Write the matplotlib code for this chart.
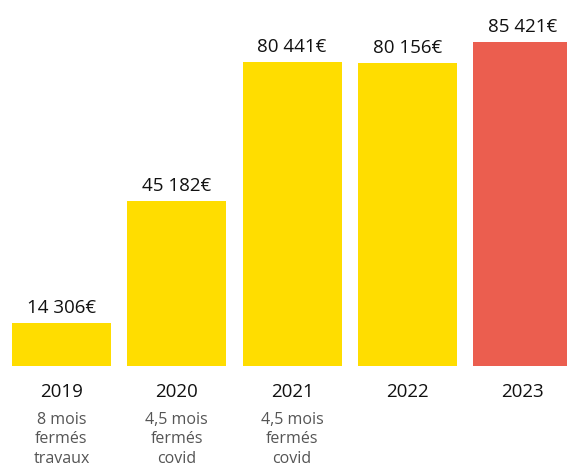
import matplotlib
matplotlib.use("Agg")
import matplotlib.pyplot as plt

years = ["2019", "2020", "2021", "2022", "2023"]
values = [14306, 45182, 80441, 80156, 85421]
value_labels = ["14 306€", "45 182€", "80 441€", "80 156€", "85 421€"]
notes = ["8 mois\nfermés\ntravaux", "4,5 mois\nfermés\ncovid", "4,5 mois\nfermés\ncovid", "", ""]
colors = ["#FFDD00", "#FFDD00", "#FFDD00", "#FFDD00", "#EB5E4F"]

plt.rcParams['font.family'] = ['Open Sans', 'DejaVu Sans']

fig = plt.figure(figsize=(5.67, 4.66), dpi=100)
ax = fig.add_axes([0, (466 - 366) / 466, 1, 366 / 466])
x = list(range(len(years)))
ax.bar(x, values, width=0.859, color=colors)
ax.set_xlim(-0.5336, 4.386)
a = 0.003951  # px per unit
v0 = 3423
ax.set_ylim(v0, v0 + 366 / a)
ax.axis("off")

for i, (v, lab) in enumerate(zip(values, value_labels)):
    ax.annotate(lab, (i, v), xytext=(0, 4), textcoords="offset points",
                ha="center", va="bottom", fontsize=13.5, color="#111111")

for i, (y, n) in enumerate(zip(years, notes)):
    ax.annotate(y, (i, v0), xytext=(0, -12), textcoords="offset points",
                ha="center", va="top", fontsize=13.5, color="#111111",
                fontweight="medium", annotation_clip=False)
    if n:
        ax.annotate(n, (i, v0), xytext=(0, -33), textcoords="offset points",
                    ha="center", va="top", fontsize=11.5, color="#555555",
                    linespacing=1.3, annotation_clip=False)

fig.savefig("out.png", dpi=100)
